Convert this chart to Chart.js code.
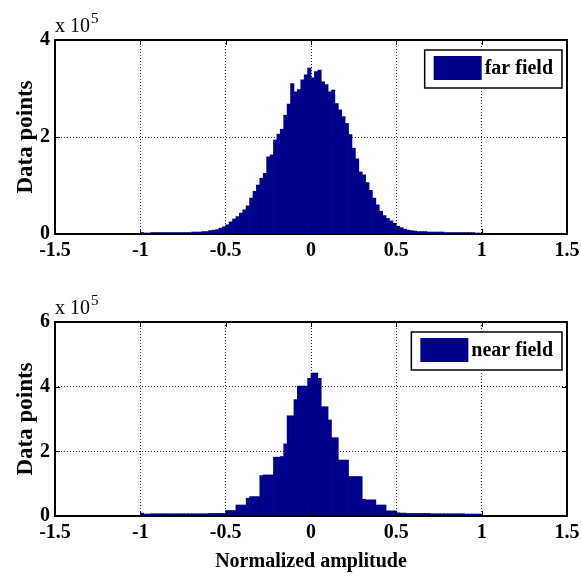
<!DOCTYPE html>
<html>
<head>
<meta charset="utf-8">
<title>Amplitude histograms</title>
<script src="https://cdn.jsdelivr.net/npm/chart.js@4.4.1/dist/chart.umd.min.js"></script>
<style>
    body { margin: 0; background: #fff; }
    .charts { position: relative; width: 581px; height: 580px; }
    .panel { position: absolute; left: 0; width: 581px; height: 290px; }
    #far-panel { top: 0; }
    #near-panel { top: 290px; }
</style>
</head>
<body>
<div class="charts">
    <div class="panel" id="far-panel"><canvas id="far-chart" width="581" height="290"></canvas></div>
    <div class="panel" id="near-panel"><canvas id="near-chart" width="581" height="290"></canvas></div>
</div>
<script>
// histogram bins: 100 bins of width 0.02 from -1 to 1
const binStart = -1;
const binWidth = 0.02;

// counts per bin, in units of 1e5
const farField = [
    0.03, 0.02, 0.02, 0.03, 0.03, 0.03, 0.03, 0.03, 0.03, 0.03,
    0.03, 0.03, 0.03, 0.03, 0.03, 0.04, 0.04, 0.04, 0.05, 0.05,
    0.07, 0.08, 0.09, 0.12, 0.15, 0.19, 0.25, 0.31, 0.36, 0.43,
    0.50, 0.58, 0.74, 0.88, 1.01, 1.15, 1.25, 1.59, 1.63, 1.94,
    2.06, 2.16, 2.45, 2.68, 3.10, 2.93, 2.98, 3.18, 3.28, 3.42,
    3.22, 3.35, 3.38, 3.14, 3.08, 2.93, 2.97, 2.69, 2.56, 2.42,
    2.28, 2.05, 1.77, 1.55, 1.28, 1.22, 1.06, 0.90, 0.74, 0.60,
    0.47, 0.38, 0.32, 0.27, 0.22, 0.16, 0.13, 0.10, 0.08, 0.07,
    0.06, 0.05, 0.05, 0.05, 0.04, 0.04, 0.04, 0.04, 0.04, 0.03,
    0.03, 0.03, 0.03, 0.03, 0.03, 0.03, 0.03, 0.03, 0.02, 0.02
];

const nearField = [
    0.09, 0.06, 0.06, 0.07, 0.07, 0.07, 0.07, 0.07, 0.07, 0.07,
    0.07, 0.07, 0.07, 0.07, 0.07, 0.07, 0.07, 0.07, 0.07, 0.07,
    0.08, 0.08, 0.08, 0.08, 0.08, 0.17, 0.17, 0.17, 0.34, 0.34,
    0.34, 0.55, 0.60, 0.60, 0.60, 1.25, 1.27, 1.27, 1.27, 1.82,
    1.82, 1.84, 2.23, 3.10, 3.10, 3.60, 4.02, 4.02, 4.02, 4.26,
    4.42, 4.42, 4.26, 3.38, 3.38, 2.97, 2.42, 2.42, 1.73, 1.73,
    1.73, 1.22, 1.22, 1.22, 1.22, 0.52, 0.50, 0.50, 0.50, 0.34,
    0.34, 0.34, 0.16, 0.16, 0.16, 0.10, 0.09, 0.09, 0.08, 0.08,
    0.08, 0.08, 0.08, 0.08, 0.08, 0.07, 0.07, 0.07, 0.07, 0.07,
    0.07, 0.07, 0.07, 0.07, 0.07, 0.06, 0.06, 0.06, 0.06, 0.06
];

const xTicks = [-1.5, -1, -0.5, 0, 0.5, 1, 1.5];
const farYTicks = [0, 2, 4];
const nearYTicks = [0, 2, 4, 6];
const seriesLabels = ['far field', 'near field'];
const xTitle = 'Normalized amplitude';
const yTitle = 'Data points';
const exponentText = 'x 10';
const exponentPower = '5';

const app = {};

app.barColor = '#00008b';
app.fontFamily = '"Liberation Serif", "Times New Roman", serif';

app.toPoints = (counts) => {
    return counts.map((count, i) => ({ x: binStart + binWidth * (i + 0.5), y: count }));
};

// box, inward ticks, exponent and legend drawn the MATLAB way
app.framePlugin = {
    id: 'matlabFrame',
    afterDraw(chart, args, opts) {
        const { ctx, chartArea: a, scales } = chart;
        ctx.save();

        ctx.strokeStyle = '#000';
        ctx.lineWidth = 1;
        ctx.beginPath();
        scales.x.ticks.forEach((t) => {
            const px = Math.round(scales.x.getPixelForValue(t.value)) + 0.5;
            ctx.moveTo(px, a.bottom);
            ctx.lineTo(px, a.bottom - 5);
            ctx.moveTo(px, a.top);
            ctx.lineTo(px, a.top + 5);
        });
        scales.y.ticks.forEach((t) => {
            const py = Math.round(scales.y.getPixelForValue(t.value)) + 0.5;
            ctx.moveTo(a.left, py);
            ctx.lineTo(a.left + 5, py);
            ctx.moveTo(a.right, py);
            ctx.lineTo(a.right - 5, py);
        });
        ctx.stroke();

        ctx.lineWidth = 2;
        ctx.strokeRect(a.left, a.top, a.right - a.left, a.bottom - a.top);

        // x 10^5
        ctx.fillStyle = '#000';
        ctx.textAlign = 'left';
        ctx.textBaseline = 'alphabetic';
        ctx.font = '20px ' + app.fontFamily;
        ctx.fillText(exponentText, a.left, a.top - 8);
        const expW = ctx.measureText(exponentText).width;
        ctx.font = '15px ' + app.fontFamily;
        ctx.fillText(exponentPower, a.left + expW + 1, a.top - 17);

        // legend
        ctx.font = 'bold 20px ' + app.fontFamily;
        const textW = ctx.measureText(opts.label).width;
        const boxW = 9 + 48 + 3 + textW + 9;
        const boxH = 38;
        const boxX = a.right - 5 - boxW;
        const boxY = a.top + 10;
        ctx.fillStyle = '#fff';
        ctx.fillRect(boxX, boxY, boxW, boxH);
        ctx.lineWidth = 1.5;
        ctx.strokeRect(boxX, boxY, boxW, boxH);
        ctx.fillStyle = app.barColor;
        ctx.fillRect(boxX + 9, boxY + 6, 48, 24);
        ctx.fillStyle = '#000';
        ctx.textBaseline = 'middle';
        ctx.fillText(opts.label, boxX + 9 + 48 + 3, boxY + boxH / 2);

        ctx.restore();
    }
};

app.makeChart = (canvasId, counts, yTicks, label, cfg) => {
    const tickFont = { family: app.fontFamily, size: 20, weight: 'bold' };

    const config = {
        type: 'bar',
        data: {
            datasets: [{
                label: label,
                data: app.toPoints(counts),
                backgroundColor: app.barColor,
                borderWidth: 0,
                barPercentage: 1,
                categoryPercentage: 1
            }]
        },
        options: {
            responsive: false,
            animation: false,
            devicePixelRatio: 1,
            layout: { padding: { top: cfg.top, right: 14, left: 0, bottom: 0 } },
            plugins: {
                legend: { display: false },
                tooltip: { enabled: false },
                matlabFrame: { label: label }
            },
            scales: {
                x: {
                    type: 'linear',
                    offset: false,
                    min: xTicks[0],
                    max: xTicks[xTicks.length - 1],
                    afterBuildTicks: (axis) => { axis.ticks = xTicks.map(v => ({ value: v })); },
                    afterFit: (axis) => {
                        axis.height = cfg.xHeight;
                        axis.paddingLeft = 0;
                        axis.paddingRight = 0;
                    },
                    grid: { color: '#222', lineWidth: 1, drawTicks: false, offset: false },
                    border: { display: false, dash: [1, 2] },
                    ticks: {
                        color: '#000',
                        font: tickFont,
                        padding: 5,
                        maxRotation: 0,
                        autoSkip: false,
                        callback: (v) => String(v)
                    },
                    title: {
                        display: cfg.showXTitle,
                        text: xTitle,
                        color: '#000',
                        font: { family: app.fontFamily, size: 20, weight: 'bold' },
                        padding: { top: 0, bottom: 6 }
                    }
                },
                y: {
                    min: yTicks[0],
                    max: yTicks[yTicks.length - 1],
                    afterBuildTicks: (axis) => { axis.ticks = yTicks.map(v => ({ value: v })); },
                    afterFit: (axis) => {
                        axis.width = 55;
                        axis.paddingTop = 0;
                        axis.paddingBottom = 0;
                    },
                    grid: { color: '#222', lineWidth: 1, drawTicks: false },
                    border: { display: false, dash: [1, 2] },
                    ticks: {
                        color: '#000',
                        font: tickFont,
                        padding: 5,
                        callback: (v) => String(v)
                    },
                    title: {
                        display: true,
                        text: yTitle,
                        color: '#000',
                        font: { family: app.fontFamily, size: 23, weight: 'bold' },
                        padding: { top: 12, bottom: 0 }
                    }
                }
            }
        },
        plugins: [app.framePlugin]
    };

    return new Chart(document.getElementById(canvasId), config);
};

app.init = () => {
    app.makeChart('far-chart', farField, farYTicks, seriesLabels[0], { top: 40, xHeight: 56, showXTitle: false });
    app.makeChart('near-chart', nearField, nearYTicks, seriesLabels[1], { top: 32, xHeight: 64, showXTitle: true });
};

app.init();
</script>
</body>
</html>
